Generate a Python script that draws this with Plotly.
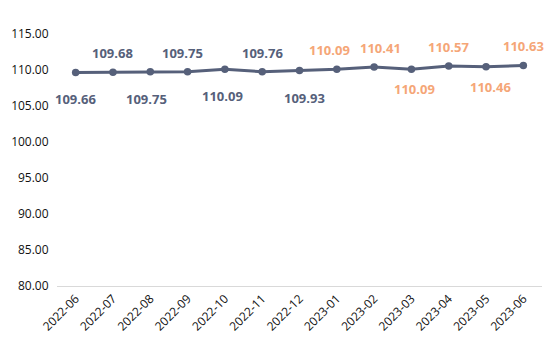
import plotly.graph_objects as go

months = ["2022-06", "2022-07", "2022-08", "2022-09", "2022-10", "2022-11", "2022-12",
          "2023-01", "2023-02", "2023-03", "2023-04", "2023-05", "2023-06"]
values = [109.66, 109.68, 109.75, 109.75, 110.09, 109.76, 109.93,
          110.09, 110.41, 110.09, 110.57, 110.46, 110.63]
label_side = ["below", "above", "below", "above", "below", "above", "below",
              "above", "above", "below", "above", "below", "above"]
y_ticks = [80, 85, 90, 95, 100, 105, 110, 115]

DARK = "#56607a"
ORANGE = "#f5a677"
n_dark = 7
# small horizontal nudges of labels (overlap avoidance, as in the reference)
x_nudge = [0, 0, -4, -5, -2, 0, 5, -7, 6, 3, 0, 4, 0]

fig = go.Figure()
fig.add_trace(go.Scatter(
    x=months, y=values, mode="lines+markers",
    line=dict(color=DARK, width=3),
    marker=dict(color=DARK, size=7.5),
    hoverinfo="x+y", showlegend=False,
))

for i, (m, v, side) in enumerate(zip(months, values, label_side)):
    color = DARK if i < n_dark else ORANGE
    if side == "above":
        shift = 19
    else:
        shift = -27 if i < n_dark else -20
    fig.add_annotation(
        x=m, y=v, text=f"{v:.2f}", showarrow=False, yshift=shift, xshift=x_nudge[i],
        font=dict(family="Open Sans", size=13, color=color, weight="bold"),
    )

fig.update_layout(
    width=551, height=351,
    margin=dict(l=57, r=9, t=34, b=65),
    paper_bgcolor="white", plot_bgcolor="white",
    font=dict(family="Open Sans", size=12, color="#222"),
    xaxis=dict(
        type="category", tickangle=-45, showgrid=False,
        showline=True, linecolor="#d9d9d9", linewidth=1,
        ticks="", tickfont=dict(size=12, color="#111"),
        range=[-0.5, len(months) - 0.5],
    ),
    yaxis=dict(
        range=[80, 115], tickvals=y_ticks,
        ticktext=[f"{t:.2f}" for t in y_ticks],
        showgrid=False, zeroline=False, showline=False,
        ticks="outside", ticklen=5, tickcolor="rgba(0,0,0,0)",
        tickfont=dict(size=12, color="#111"),
    ),
)

fig.write_html("out.html")
